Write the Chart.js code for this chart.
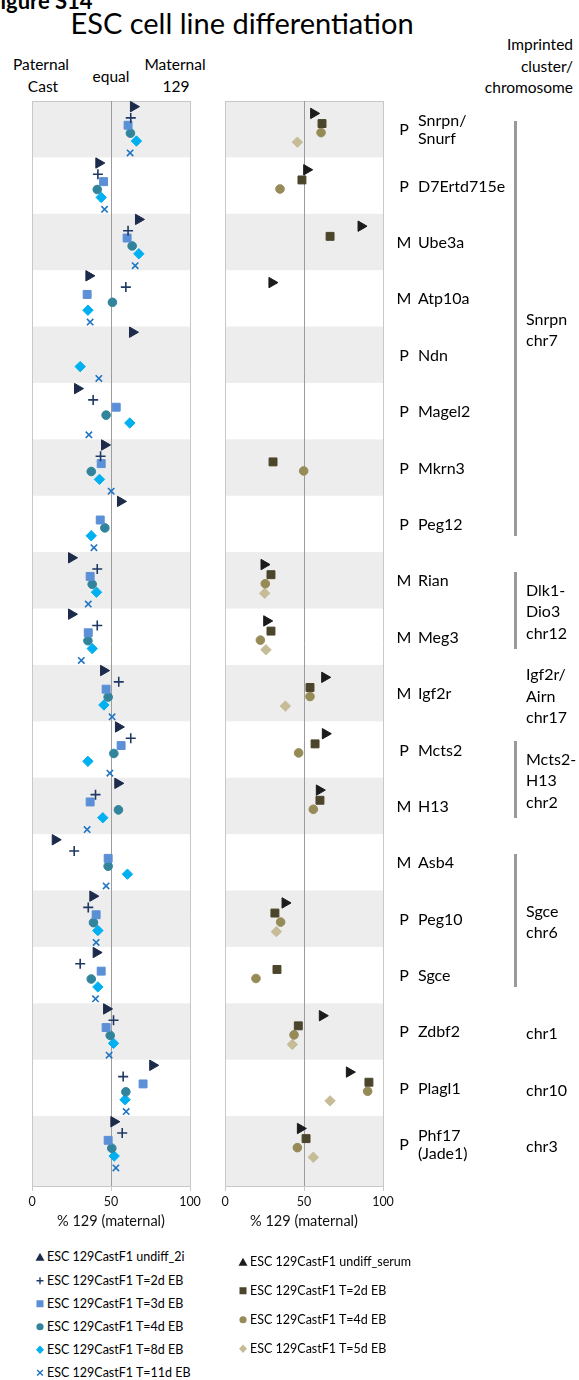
<!DOCTYPE html>
<html>
<head>
<meta charset="utf-8">
<script src="https://cdn.jsdelivr.net/npm/chart.js@4/dist/chart.umd.min.js"></script>
<style>
  html, body { margin: 0; padding: 0; background: #fff; }
  #page { position: relative; width: 579px; height: 1380px; overflow: hidden;
          font-family: Lato, "Open Sans", "Liberation Sans", sans-serif; color: #000; }
  .t { position: absolute; white-space: nowrap; line-height: 1; }
  .c { transform: translate(-50%, -50%); text-align: center; }
  .box { position: absolute; }
  .lab { position: absolute; white-space: nowrap; font-size: 16px; line-height: 18px; transform: translateY(-50%); }
  .par { position: absolute; font-size: 16px; line-height: 18px; transform: translate(-50%, -50%); }
  .bracket { position: absolute; width: 3px; background: #9a9a9a; }
  .leg { position: absolute; font-size: 12.5px; white-space: nowrap; line-height: 1; transform: translateY(-50%); }
  .leg svg { position: absolute; left: -12px; top: 50%; transform: translateY(-50%); }
</style>
</head>
<body>
<div id="page">
  <div class="t" style="left:-12px; top:-10px; font-size:22px; font-weight:bold;">Figure S14</div>
  <div class="t c" style="left:242px; top:22px; font-size:29px;">ESC cell line differentiation</div>

  <div class="t c" style="left:41px; top:65px; font-size:15.5px;">Paternal</div>
  <div class="t c" style="left:43px; top:87px; font-size:15.5px;">Cast</div>
  <div class="t c" style="left:111px; top:77px; font-size:15.5px;">equal</div>
  <div class="t c" style="left:175px; top:65px; font-size:15.5px;">Maternal</div>
  <div class="t c" style="left:176px; top:87px; font-size:15.5px;">129</div>

  <div class="t" style="right:6px; top:34px; font-size:15.5px; line-height:21.5px; text-align:right;">Imprinted<br>cluster/<br>chromosome</div>

  <div class="box" style="left:0; top:90px; width:205px; height:1150px;"><canvas id="chartLeft"></canvas></div>
  <div class="box" style="left:200px; top:90px; width:379px; height:1150px;"><canvas id="chartRight"></canvas></div>

  <div id="annot"></div>
  <div id="legendLeft"></div>
  <div id="legendRight"></div>
</div>

<script>
// ---- Genes (one row each, top to bottom) ----
const genes = ['Snrpn/\nSnurf', 'D7Ertd715e', 'Ube3a', 'Atp10a', 'Ndn', 'Magel2', 'Mkrn3', 'Peg12',
               'Rian', 'Meg3', 'Igf2r', 'Mcts2', 'H13', 'Asb4', 'Peg10', 'Sgce', 'Zdbf2', 'Plagl1', 'Phf17\n(Jade1)'];
const expressedFrom = ['P', 'P', 'M', 'M', 'P', 'P', 'P', 'P', 'M', 'M', 'M', 'P', 'M', 'M', 'P', 'P', 'P', 'P', 'P'];

// Imprinted clusters / chromosomes: label, first and last gene row
const clusterLabels = ['Snrpn\nchr7', 'Dlk1-\nDio3\nchr12', 'Igf2r/\nAirn\nchr17', 'Mcts2-\nH13\nchr2', 'Sgce\nchr6', 'chr1', 'chr10', 'chr3'];
const clusterFirst  = [0, 8, 10, 11, 13, 16, 17, 18];
const clusterLast   = [7, 9, 10, 12, 15, 16, 17, 18];

// ---- % 129 (maternal) allele, 2i-cultured ESC line ----
const undiff2i = [64.2, 42.3, 67.4, 36.0, 63.6, 28.8, 45.9, 56.0, 25.0, 25.0, 45.3, 54.7, 54.3, 14.7, 38.5, 40.6, 47.2, 76.4, 51.8];
const eb2d_2i  = [62.5, 41.7, 60.8, 59.4, null, 38.7, 43.4, null, 41.3, 41.3, 54.9, 62.5, 40.2, 26.7, 35.6, 30.5, 51.6, 57.7, 57.1];
const eb3d_2i  = [60.8, 45.3, 60.2, 34.9, null, 53.3, 43.8, 43.2, 36.8, 35.6, 46.9, 56.4, 36.8, 48.2, 40.6, 43.8, 46.9, 70.3, 48.2];
const eb4d_2i  = [62.3, 41.3, 63.4, 50.9, null, 46.9, 37.5, 46.1, 38.1, 35.4, 48.2, 51.8, 54.7, 48.2, 38.9, 37.5, 49.5, 59.4, 50.5];
const eb8d_2i  = [66.1, 43.8, 67.6, 35.4, 30.5, 61.9, 42.7, 37.5, 40.8, 38.1, 45.5, 35.4, 44.8, 60.4, 41.7, 41.7, 51.6, 58.9, 52.0];
const eb11d_2i = [62.1, 45.9, 65.3, 36.8, 42.3, 36.0, 50.1, 39.2, 35.6, 31.2, 50.7, 49.3, 34.9, 46.9, 40.6, 40.2, 48.8, 59.6, 53.1];

// ---- % 129 (maternal) allele, serum-cultured ESC line ----
const undiffSerum = [56.1, 51.7, 86.1, 29.7, null, null, null, null, 24.7, 26.4, 63.1, 63.5, 59.7, null, 38.0, null, 61.6, 78.7, 47.7];
const eb2d_serum  = [61.4, 48.7, 66.5, null, null, null, 30.4, null, 29.1, 29.1, 53.8, 57.0, 60.1, null, 31.6, 32.9, 46.4, 91.1, 51.3];
const eb4d_serum  = [60.8, 34.8, null, null, null, null, 49.8, null, 25.5, 22.4, 53.8, 46.6, 55.9, null, 35.2, 19.6, 43.7, 90.3, 45.8];
const eb5d_serum  = [45.8, null, null, null, null, null, null, null, 25.1, 25.9, 38.2, null, null, null, 32.5, null, 42.6, 66.5, 55.9];

const xTicks = [0, 50, 100];
const xTitle = '% 129 (maternal)';

// ---- drawing ----
const FONT = 'Lato, "Open Sans", "Liberation Sans", sans-serif';
const ROW_SPAN = 19.24;          // visible rows on the category axis (last row runs to the frame)
const BOX_TOP = 90;              // top of both chart boxes on the page

function points(values, rowShift) {
  const out = [];
  values.forEach((v, i) => { if (v !== null) out.push({ x: v, y: i + rowShift }); });
  return out;
}

function series(label, values, rowShift, style) {
  return Object.assign({
    label, data: points(values, rowShift), showLine: false,
    pointHoverRadius: 0, borderWidth: 1
  }, style);
}

const bandsPlugin = {
  id: 'bands',
  beforeDraw(chart) {
    const { ctx, chartArea: a, scales: { y } } = chart;
    ctx.save();
    ctx.fillStyle = '#ededed';
    for (let i = 0; i < genes.length; i += 2) {
      const top = y.getPixelForValue(i);
      const bottom = (i === genes.length - 1) ? a.bottom : y.getPixelForValue(i + 1);
      ctx.fillRect(a.left, top, a.right - a.left, bottom - top);
    }
    ctx.strokeStyle = '#c8c8c8';
    ctx.lineWidth = 1;
    ctx.beginPath();
    ctx.moveTo(a.left, Math.round(a.top) + 0.5);
    ctx.lineTo(a.right, Math.round(a.top) + 0.5);
    ctx.stroke();
    ctx.restore();
  }
};

function options(padLeft, padRight) {
  return {
    responsive: true, maintainAspectRatio: false, animation: false, devicePixelRatio: 1,
    events: [],
    layout: { padding: { left: padLeft, right: padRight, top: 11, bottom: 0 } },
    plugins: { legend: { display: false }, tooltip: { enabled: false } },
    scales: {
      x: {
        type: 'linear', min: 0, max: 100,
        afterBuildTicks: s => { s.ticks = xTicks.map(v => ({ value: v })); },
        ticks: { color: '#111', font: { family: FONT, size: 12.5 }, padding: 3, maxRotation: 0, autoSkip: false },
        grid: {
          color: c => (c.tick && c.tick.value === 50) ? '#9c9c9c' : '#c8c8c8',
          tickColor: '#c8c8c8', lineWidth: 1, tickLength: 5
        },
        border: { display: true, color: '#c8c8c8' },
        title: { display: true, text: xTitle, color: '#111', font: { family: FONT, size: 14.5 }, padding: { top: 0, bottom: 10 } },
        afterFit: s => { s.height = 54; }
      },
      y: { type: 'linear', min: 0, max: ROW_SPAN, reverse: true, display: false }
    }
  };
}

const tri  = (c) => ({ pointStyle: 'triangle', pointRotation: 90, pointRadius: 6, backgroundColor: c, borderColor: c });
const plus = (c) => ({ pointStyle: 'cross', pointRadius: 5, backgroundColor: c, borderColor: c, borderWidth: 1.6 });
const sq   = (c, r) => ({ pointStyle: 'rect', pointRadius: r, backgroundColor: c, borderColor: c });
const dot  = (c) => ({ pointStyle: 'circle', pointRadius: 4.3, backgroundColor: c, borderColor: c });
const dia  = (c) => ({ pointStyle: 'rectRot', pointRadius: 5.2, backgroundColor: c, borderColor: c });
const xmk  = (c) => ({ pointStyle: 'crossRot', pointRadius: 4.5, backgroundColor: c, borderColor: c, borderWidth: 1.6 });

const C2i = { u: '#1c2b4a', d2: '#1f3864', d3: '#5b8fd6', d4: '#31849b', d8: '#00b0f0', d11: '#1f74c4' };
const CSe = { u: '#1b1b1b', d2: '#4b452b', d4: '#968b56', d5: '#c6bd98' };

const leftSets = [
  series('ESC 129CastF1 undiff_2i', undiff2i, 0.10, tri(C2i.u)),
  series('ESC 129CastF1 T=2d EB', eb2d_2i, 0.30, plus(C2i.d2)),
  series('ESC 129CastF1 T=3d EB', eb3d_2i, 0.43, sq(C2i.d3, 5.6)),
  series('ESC 129CastF1 T=4d EB', eb4d_2i, 0.57, dot(C2i.d4)),
  series('ESC 129CastF1 T=8d EB', eb8d_2i, 0.71, dia(C2i.d8)),
  series('ESC 129CastF1 T=11d EB', eb11d_2i, 0.92, xmk(C2i.d11))
];
const rightSets = [
  series('ESC 129CastF1 undiff_serum', undiffSerum, 0.22, tri(CSe.u)),
  series('ESC 129CastF1 T=2d EB', eb2d_serum, 0.40, sq(CSe.d2, 5.6)),
  series('ESC 129CastF1 T=4d EB', eb4d_serum, 0.56, dot(CSe.d4)),
  series('ESC 129CastF1 T=5d EB', eb5d_serum, 0.73, dia(CSe.d5))
];

// Gene names, parental origin and cluster brackets placed from the row scale
const annotPlugin = {
  id: 'annot',
  afterRender(chart) {
    if (chart.$annotDone) return;
    chart.$annotDone = true;
    const y = chart.scales.y;
    const host = document.getElementById('annot');
    const rowY = v => BOX_TOP + y.getPixelForValue(v);
    genes.forEach((g, i) => {
      const cy = rowY(i + 0.5);
      const p = document.createElement('div');
      p.className = 'par'; p.style.left = '404px'; p.style.top = cy + 'px';
      p.textContent = expressedFrom[i];
      host.appendChild(p);
      const n = document.createElement('div');
      n.className = 'lab'; n.style.left = '418px'; n.style.top = cy + 'px';
      n.innerHTML = g.split('\n').join('<br>');
      host.appendChild(n);
    });
    clusterLabels.forEach((txt, k) => {
      const f = clusterFirst[k], l = clusterLast[k];
      const from = f + 0.35, to = l + 0.72;
      const lab = document.createElement('div');
      lab.className = 'lab';
      lab.style.left = '526px';
      lab.style.top = rowY((from + to) / 2) + 'px';
      lab.style.lineHeight = '21.5px';
      lab.innerHTML = txt.split('\n').join('<br>');
      host.appendChild(lab);
      if (l > f) {
        const b = document.createElement('div');
        b.className = 'bracket';
        const t = rowY(from), bt = rowY(to);
        b.style.left = '514px'; b.style.top = t + 'px'; b.style.height = (bt - t) + 'px';
        host.appendChild(b);
      }
    });
  }
};

new Chart(document.getElementById('chartLeft'), {
  type: 'scatter', data: { datasets: leftSets }, options: options(32, 15), plugins: [bandsPlugin]
});
new Chart(document.getElementById('chartRight'), {
  type: 'scatter', data: { datasets: rightSets }, options: options(25, 196), plugins: [bandsPlugin, annotPlugin]
});

// ---- legends ----
function symbol(kind, color) {
  const s = 10;
  let body = '';
  if (kind === 'tri') body = `<polygon points="5,1 9.5,9 0.5,9" fill="${color}"/>`;
  if (kind === 'plus') body = `<path d="M5 1.5V8.5M1.5 5H8.5" stroke="${color}" stroke-width="1.4"/>`;
  if (kind === 'sq') body = `<rect x="1.5" y="1.5" width="7" height="7" fill="${color}"/>`;
  if (kind === 'dot') body = `<circle cx="5" cy="5" r="3.6" fill="${color}"/>`;
  if (kind === 'dia') body = `<polygon points="5,0.8 9,5 5,9.2 1,5" fill="${color}"/>`;
  if (kind === 'x') body = `<path d="M2.2 2.2L7.8 7.8M7.8 2.2L2.2 7.8" stroke="${color}" stroke-width="1.4"/>`;
  return `<svg width="${s}" height="${s}" viewBox="0 0 10 10">${body}</svg>`;
}
function legend(hostId, sets, kinds, left, tops) {
  const host = document.getElementById(hostId);
  sets.forEach((ds, i) => {
    const d = document.createElement('div');
    d.className = 'leg';
    d.style.left = left + 'px';
    d.style.top = tops[i] + 'px';
    d.innerHTML = symbol(kinds[i], ds.borderColor) + ds.label;
    host.appendChild(d);
  });
}
legend('legendLeft', leftSets, ['tri', 'plus', 'sq', 'dot', 'dia', 'x'], 47, [1257, 1281, 1304, 1327, 1350, 1373]);
legend('legendRight', rightSets, ['tri', 'sq', 'dot', 'dia'], 250, [1262, 1291, 1320, 1349]);
</script>
</body>
</html>
